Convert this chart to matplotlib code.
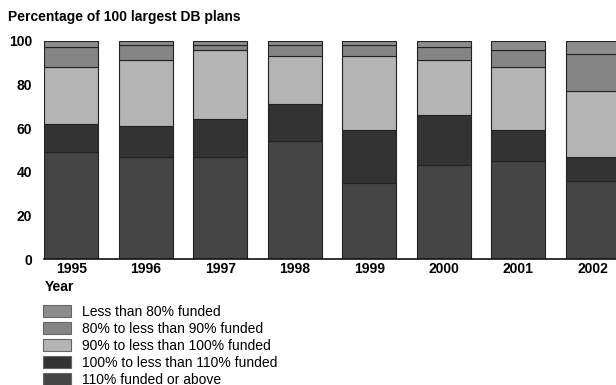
import matplotlib
matplotlib.use("Agg")
import matplotlib.pyplot as plt
from matplotlib.patches import Patch
import numpy as np

plt.rcParams['font.family'] = ['Liberation Sans', 'DejaVu Sans']

years = ['1995', '1996', '1997', '1998', '1999', '2000', '2001', '2002']

# stacked from the bottom up
above_110 = [49, 47, 47, 54, 35, 43, 45, 36]
from_100_to_110 = [13, 14, 17, 17, 24, 23, 14, 11]
from_90_to_100 = [26, 30, 32, 22, 34, 25, 29, 30]
from_80_to_90 = [9, 7, 2, 5, 5, 6, 8, 17]
below_80 = [3, 2, 2, 2, 2, 3, 4, 6]

series = [
    ('110% funded or above', above_110, '#454545'),
    ('100% to less than 110% funded', from_100_to_110, '#333333'),
    ('90% to less than 100% funded', from_90_to_100, '#b4b4b4'),
    ('80% to less than 90% funded', from_80_to_90, '#858585'),
    ('Less than 80% funded', below_80, '#8c8c8c'),
]

fig = plt.figure(figsize=(6.16, 3.85), dpi=100)
ax = fig.add_axes([0.071, 0.3265, 1.0 - 0.071, 0.894 - 0.3265])

x = np.arange(len(years))
bottom = np.zeros(len(years))
for label, vals, color in series:
    ax.bar(x, vals, width=0.725, bottom=bottom, color=color,
           edgecolor='#222222', linewidth=0.8)
    bottom += np.array(vals)

ax.set_xlim(-0.37, 7.31)
ax.set_ylim(0, 100)
ax.set_xticks(x)
ax.set_xticklabels(years, fontweight='bold', fontsize=10)
ax.set_yticks([0, 20, 40, 60, 80, 100])
ax.set_yticklabels(['0', '20', '40', '60', '80', '100'], fontweight='bold', fontsize=10)
ax.tick_params(length=0, pad=2)
ax.tick_params(axis='y', pad=8.5)
for side in ['left', 'right', 'top']:
    ax.spines[side].set_visible(False)
ax.spines['bottom'].set_linewidth(1.2)
ax.spines['bottom'].set_color('#111111')

fig.text(0.013, 0.957, 'Percentage of 100 largest DB plans',
         fontweight='bold', fontsize=10, va='center')
fig.text(0.072, 0.254, 'Year', fontweight='bold', fontsize=10, va='center')

handles = [Patch(facecolor=c, edgecolor='#666666', linewidth=0.8, label=l)
           for l, v, c in reversed(series)]
fig.legend(handles=handles, loc='upper left', bbox_to_anchor=(0.0615, 0.2234),
           frameon=False, fontsize=10, handlelength=1.95, handleheight=0.9,
           labelspacing=0.22, handletextpad=0.85, borderaxespad=0)

fig.savefig('out.png', dpi=100)
